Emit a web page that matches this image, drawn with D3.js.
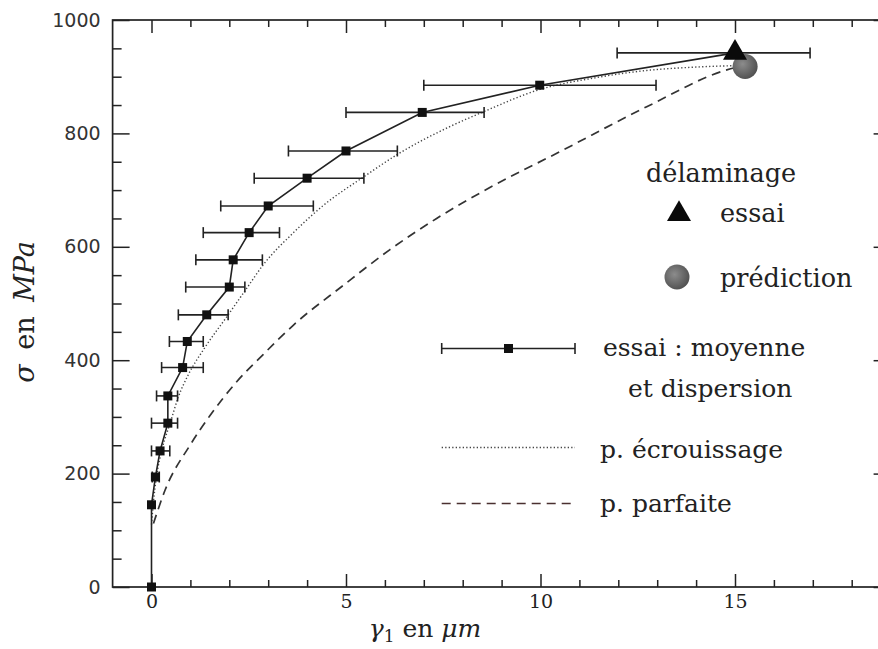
<!DOCTYPE html>
<html>
<head>
<meta charset="utf-8">
<script src="https://cdn.jsdelivr.net/npm/d3@7"></script>
<style>
  body { margin: 0; background: #fff; overflow: hidden; }
  svg { display: block; }
  .serif { font-family: "DejaVu Serif", serif; fill: #222; }
</style>
</head>
<body>
<div id="chart"></div>
<script>
// essai : moyenne et dispersion (gamma1 in um, sigma in MPa)
var essaiGamma = [0, 0, 0.1, 0.22, 0.42, 0.42, 0.80, 0.92, 1.42, 2.0, 2.10, 2.51, 3.0, 4.0, 5.0, 6.96, 9.98, 15.0];
var essaiSigma = [0, 145, 194, 240, 289, 337, 387, 433, 480, 529, 577, 625, 672, 721, 769, 837, 885, 942];
var essaiMin   = [0, 0, 0.02, 0.0, 0.0, 0.13, 0.26, 0.46, 0.69, 0.88, 1.14, 1.33, 1.78, 2.64, 3.52, 5.0, 7.0, 11.97];
var essaiMax   = [0, 0, 0.2, 0.47, 0.67, 0.67, 1.33, 1.33, 1.97, 2.40, 2.85, 3.29, 4.16, 5.46, 6.32, 8.55, 12.97, 16.93];

// p. ecrouissage (dotted)
var ecrGamma = [0.0, 0.05, 0.13, 0.28, 0.48, 0.69, 0.95, 1.33, 1.97, 2.45, 2.87, 3.65, 4.4, 5.49, 6.3, 7.67, 8.53, 9.96, 11.4, 12.73, 14.0, 15.26];
var ecrSigma = [110, 150, 195, 245, 289, 335, 375, 418, 480, 527, 568, 625, 672, 725, 762, 812, 838, 877, 898, 911, 917, 920];

// p. parfaite (dashed)
var parGamma = [0.05, 0.35, 0.99, 1.5, 2.19, 2.87, 3.65, 4.93, 6.13, 7.33, 8.5, 10.59, 12.73, 14.79, 15.26];
var parSigma = [112, 171, 250, 302, 362, 410, 462, 532, 595, 650, 697, 771, 847, 912, 920];

// delaminage
var delamEssai = [15.0, 942];
var delamPrediction = [15.26, 918];

// ticks
var xMajor = [0, 5, 10, 15];
var xMinor = [1, 2, 3, 4, 6, 7, 8, 9, 11, 12, 13, 14, 16, 17, 18];
var yMajor = [0, 200, 400, 600, 800, 1000];
var yMinor = [50, 100, 150, 250, 300, 350, 450, 500, 550, 650, 700, 750, 850, 900, 950];

var width = 878, height = 649;
var margin = {left: 112.6, top: 20, right: 890.6, bottom: 587};

var svg = d3.select("#chart").append("svg")
    .attr("width", width)
    .attr("height", height);

var x = d3.scaleLinear().domain([-1, 19]).range([margin.left, margin.right]);
var y = d3.scaleLinear().domain([0, 1000]).range([margin.bottom, margin.top]);

var ink = "#222";

// frame
svg.append("rect")
    .attr("x", margin.left).attr("y", margin.top)
    .attr("width", margin.right - margin.left)
    .attr("height", margin.bottom - margin.top)
    .attr("fill", "none").attr("stroke", ink).attr("stroke-width", 1.7);

function styleAxis(g) {
    g.select(".domain").remove();
    g.selectAll(".tick line").attr("stroke", ink).attr("stroke-width", 1.5);
}

// bottom axis
svg.append("g").attr("transform", "translate(0," + margin.bottom + ")")
    .call(d3.axisBottom(x).tickValues(xMinor).tickSize(-7).tickFormat(""))
    .call(styleAxis);
svg.append("g").attr("transform", "translate(0," + margin.bottom + ")")
    .call(d3.axisBottom(x).tickValues(xMajor).tickSize(-13).tickPadding(8).tickFormat(d3.format("d")))
    .call(styleAxis)
    .selectAll("text")
        .attr("font-family", "DejaVu Serif, serif")
        .attr("font-size", 19)
        .attr("fill", "#222");

// top axis
svg.append("g").attr("transform", "translate(0," + margin.top + ")")
    .call(d3.axisTop(x).tickValues(xMinor).tickSize(-7).tickFormat(""))
    .call(styleAxis);
svg.append("g").attr("transform", "translate(0," + margin.top + ")")
    .call(d3.axisTop(x).tickValues(xMajor).tickSize(-13).tickFormat(""))
    .call(styleAxis);

// left axis
svg.append("g").attr("transform", "translate(" + margin.left + ",0)")
    .call(d3.axisLeft(y).tickValues(yMinor).tickSize(-9).tickFormat(""))
    .call(styleAxis);
svg.append("g").attr("transform", "translate(" + margin.left + ",0)")
    .call(d3.axisLeft(y).tickValues(yMajor).tickSize(-17).tickPadding(12).tickFormat(d3.format("d")))
    .call(styleAxis)
    .selectAll("text")
        .attr("font-family", "DejaVu Sans, sans-serif")
        .attr("font-size", 19)
        .attr("fill", "#333");

// right axis
svg.append("g").attr("transform", "translate(" + margin.right + ",0)")
    .call(d3.axisRight(y).tickValues(yMinor).tickSize(-9).tickFormat(""))
    .call(styleAxis);
svg.append("g").attr("transform", "translate(" + margin.right + ",0)")
    .call(d3.axisRight(y).tickValues(yMajor).tickSize(-17).tickFormat(""))
    .call(styleAxis);

// axis titles
var xt = svg.append("text").attr("class", "serif")
    .attr("x", 425).attr("y", 637)
    .attr("text-anchor", "middle")
    .attr("font-size", 25);
xt.append("tspan").attr("font-style", "italic").text("γ");
xt.append("tspan").attr("font-size", 17).attr("dy", 5).text("1");
xt.append("tspan").attr("dy", -5).text(" en ");
xt.append("tspan").attr("font-style", "italic").text("μm");

var yt = svg.append("text").attr("class", "serif")
    .attr("transform", "translate(34,312) rotate(-90)")
    .attr("text-anchor", "middle")
    .attr("font-size", 27)
    .attr("word-spacing", 6);
yt.append("tspan").attr("font-style", "italic").text("σ");
yt.append("tspan").text(" en ");
yt.append("tspan").attr("font-style", "italic").text("MPa");

// curves
var ecr = ecrGamma.map(function(g, i) { return [g, ecrSigma[i]]; });
var par = parGamma.map(function(g, i) { return [g, parSigma[i]]; });
var essai = essaiGamma.map(function(g, i) {
    return {g: g, s: essaiSigma[i], lo: essaiMin[i], hi: essaiMax[i]};
});

var smooth = d3.line()
    .x(function(d) { return x(d[0]); })
    .y(function(d) { return y(d[1]); })
    .curve(d3.curveMonotoneX);

svg.append("path").attr("d", smooth(par))
    .attr("fill", "none").attr("stroke", "#333").attr("stroke-width", 1.7)
    .attr("stroke-dasharray", "9,6");

svg.append("path").attr("d", smooth(ecr))
    .attr("fill", "none").attr("stroke", "#444").attr("stroke-width", 1.4)
    .attr("stroke-dasharray", "1.3,2.2");

var straight = d3.line()
    .x(function(d) { return x(d.g); })
    .y(function(d) { return y(d.s); });

svg.append("path").attr("d", straight(essai))
    .attr("fill", "none").attr("stroke", ink).attr("stroke-width", 1.6);

// error bars
var bars = svg.append("g").selectAll("g")
    .data(essai.filter(function(d) { return d.hi > d.lo; }))
    .enter().append("g")
        .attr("stroke", ink).attr("stroke-width", 1.6);

bars.append("line")
    .attr("x1", function(d) { return x(d.lo); })
    .attr("x2", function(d) { return x(d.hi); })
    .attr("y1", function(d) { return y(d.s); })
    .attr("y2", function(d) { return y(d.s); });
bars.append("line")
    .attr("x1", function(d) { return x(d.lo); })
    .attr("x2", function(d) { return x(d.lo); })
    .attr("y1", function(d) { return y(d.s) - 5.5; })
    .attr("y2", function(d) { return y(d.s) + 5.5; });
bars.append("line")
    .attr("x1", function(d) { return x(d.hi); })
    .attr("x2", function(d) { return x(d.hi); })
    .attr("y1", function(d) { return y(d.s) - 5.5; })
    .attr("y2", function(d) { return y(d.s) + 5.5; });

// mean squares
svg.append("g").selectAll("rect")
    .data(essai)
    .enter().append("rect")
        .attr("x", function(d) { return x(d.g) - 4.5; })
        .attr("y", function(d) { return y(d.s) - 4.5; })
        .attr("width", 9).attr("height", 9)
        .attr("fill", "#111");

// delaminage markers
var defs = svg.append("defs");
var grad = defs.append("radialGradient").attr("id", "ball")
    .attr("cx", "40%").attr("cy", "40%").attr("r", "65%");
grad.append("stop").attr("offset", "0%").attr("stop-color", "#8c8c8c");
grad.append("stop").attr("offset", "100%").attr("stop-color", "#4e4e4e");

svg.append("circle")
    .attr("cx", x(delamPrediction[0])).attr("cy", y(delamPrediction[1]))
    .attr("r", 12.5).attr("fill", "url(#ball)");

var tri = d3.symbol().type(d3.symbolTriangle).size(250);
svg.append("path").attr("d", tri())
    .attr("transform", "translate(" + x(delamEssai[0]) + "," + y(delamEssai[1]) + ")")
    .attr("fill", "#0a0a0a");

// legend
var leg = svg.append("g");
leg.append("text").attr("class", "serif").attr("font-size", 25.5)
    .attr("x", 646).attr("y", 182).text("délaminage");

leg.append("path").attr("d", tri())
    .attr("transform", "translate(679,214)").attr("fill", "#0a0a0a");
leg.append("text").attr("class", "serif").attr("font-size", 25.5)
    .attr("x", 720).attr("y", 222).text("essai");

leg.append("circle").attr("cx", 677).attr("cy", 277).attr("r", 12.5)
    .attr("fill", "url(#ball)");
leg.append("text").attr("class", "serif").attr("font-size", 25.5)
    .attr("x", 720).attr("y", 287).text("prédiction");

var lg = leg.append("g").attr("stroke", ink).attr("stroke-width", 1.6);
lg.append("line").attr("x1", 441.7).attr("x2", 575).attr("y1", 348.5).attr("y2", 348.5);
lg.append("line").attr("x1", 441.7).attr("x2", 441.7).attr("y1", 343).attr("y2", 354);
lg.append("line").attr("x1", 575).attr("x2", 575).attr("y1", 343).attr("y2", 354);
leg.append("rect").attr("x", 504).attr("y", 344).attr("width", 9).attr("height", 9).attr("fill", "#111");
leg.append("text").attr("class", "serif").attr("font-size", 25)
    .attr("x", 603).attr("y", 356).text("essai : moyenne");
leg.append("text").attr("class", "serif").attr("font-size", 25)
    .attr("x", 628).attr("y", 397).text("et dispersion");

leg.append("line").attr("x1", 441.7).attr("x2", 575).attr("y1", 447.5).attr("y2", 447.5)
    .attr("stroke", "#444").attr("stroke-width", 1.4).attr("stroke-dasharray", "1.3,2.2");
leg.append("text").attr("class", "serif").attr("font-size", 25)
    .attr("x", 600).attr("y", 458).text("p. écrouissage");

leg.append("line").attr("x1", 441.7).attr("x2", 575).attr("y1", 503.5).attr("y2", 503.5)
    .attr("stroke", "#4a3030").attr("stroke-width", 1.6).attr("stroke-dasharray", "9,6");
leg.append("text").attr("class", "serif").attr("font-size", 25)
    .attr("x", 600).attr("y", 512).text("p. parfaite");
</script>
</body>
</html>
